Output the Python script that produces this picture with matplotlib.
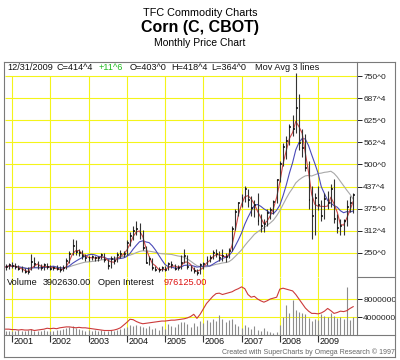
import matplotlib
matplotlib.use("Agg")
import matplotlib.pyplot as plt
import numpy as np
import pandas as pd
from matplotlib.lines import Line2D

plt.rcParams['font.family'] = ['Liberation Sans', 'DejaVu Sans']

# monthly bars, Nov 2000 .. Dec 2009 (month index 0 = Jan 2001)
months = np.arange(-2, 108)

high = [218, 222,
        225, 222, 215, 212, 208, 210, 248, 238, 228, 218, 222, 222,
        215, 212, 215, 212, 215, 235, 255, 290, 285, 262, 258, 248,
        242, 245, 240, 242, 250, 250, 232, 240, 240, 252, 258, 255,
        285, 310, 325, 340, 335, 315, 270, 240, 235, 212, 210, 212,
        212, 225, 228, 218, 215, 245, 262, 245, 215, 210, 205, 220,
        225, 240, 245, 258, 262, 255, 262, 250, 265, 325, 375, 395,
        415, 440, 430, 410, 400, 420, 360, 345, 375, 380, 400, 460,
        510, 560, 580, 615, 640, 758, 700, 600, 585, 510, 440, 420,
        440, 400, 420, 425, 445, 460, 360, 345, 345, 400, 410, 418.5]
low = [202, 205,
       208, 205, 200, 195, 192, 190, 200, 210, 205, 200, 202, 204,
       200, 200, 200, 196, 198, 205, 222, 245, 245, 240, 232, 228,
       228, 230, 228, 226, 232, 225, 205, 208, 218, 225, 235, 238,
       245, 270, 285, 300, 290, 258, 220, 215, 202, 198, 196, 198,
       198, 200, 208, 200, 200, 205, 220, 205, 198, 192, 186, 190,
       205, 215, 225, 232, 238, 228, 228, 225, 235, 255, 315, 355,
       380, 395, 380, 355, 350, 330, 310, 310, 325, 345, 360, 390,
       450, 495, 515, 555, 580, 590, 540, 520, 480, 375, 290, 300,
       370, 340, 345, 375, 380, 335, 305, 300, 300, 325, 365, 364]
close = [210, 215,
         212, 210, 205, 200, 196, 195, 225, 218, 212, 207, 215, 210,
         205, 206, 204, 200, 206, 226, 248, 268, 252, 250, 240, 236,
         235, 237, 234, 236, 245, 230, 212, 232, 226, 245, 246, 248,
         278, 298, 312, 318, 305, 265, 222, 232, 206, 202, 200, 206,
         202, 218, 215, 205, 208, 222, 240, 210, 202, 198, 192, 215,
         218, 230, 236, 250, 248, 235, 242, 238, 256, 318, 365, 390,
         405, 430, 400, 378, 385, 340, 325, 332, 362, 370, 395, 455,
         500, 550, 565, 605, 600, 660, 560, 545, 490, 400, 355, 405,
         385, 355, 402, 390, 430, 345, 320, 325, 340, 380, 392, 414.5]

# volume in millions of contracts
volume = [0.9, 1.0,
          1.0, 0.9, 1.1, 0.8, 1.0, 1.2, 1.3, 0.9, 1.0, 0.8, 1.1, 0.9,
          1.0, 0.9, 1.2, 1.1, 1.4, 1.6, 1.8, 1.9, 1.5, 1.3, 1.2, 1.0,
          1.1, 1.0, 1.2, 0.9, 1.1, 1.0, 0.8, 1.2, 1.0, 1.1, 1.3, 1.5,
          1.8, 2.2, 1.9, 2.3, 2.0, 1.7, 1.5, 1.9, 1.3, 1.6, 1.2, 1.9,
          1.4, 2.4, 2.0, 1.8, 2.5, 2.8, 3.0, 2.4, 1.8, 2.6, 1.9, 3.1,
          2.6, 3.4, 3.0, 3.6, 3.2, 4.4, 3.6, 2.8, 3.4, 3.5, 2.4, 2.0,
          1.6, 2.2, 1.8, 1.4, 2.0, 1.2, 0.9, 1.5, 0.8, 0.6, 0.5, 0.7,
          2.2, 4.1, 6.7, 5.0, 7.8, 5.6, 5.2, 4.8, 4.6, 3.7, 3.2, 3.6,
          3.4, 4.6, 4.2, 4.0, 4.8, 4.3, 3.8, 4.0, 3.6, 10.7, 3.4, 3.9]
# open interest line, as drawn on the volume scale
open_int = [1.3, 1.3,
            1.2, 1.2, 1.1, 1.2, 1.1, 1.1, 1.2, 1.0, 1.1, 1.2, 1.3, 1.5,
            1.4, 1.5, 1.4, 1.6, 1.7, 1.8, 1.8, 1.7, 1.6, 1.7, 1.6, 1.6,
            1.5, 1.4, 1.3, 1.2, 1.1, 1.0, 1.0, 1.0, 1.1, 1.3, 1.6, 2.2,
            2.8, 3.5, 3.4, 3.0, 2.7, 2.5, 2.6, 2.7, 2.8, 2.9, 3.0, 3.1,
            3.1, 3.2, 3.3, 3.3, 3.4, 3.5, 3.6, 3.8, 4.1, 4.6, 3.7, 4.6,
            5.8, 7.0, 7.8, 8.6, 9.2, 9.3, 9.0, 9.2, 9.4, 9.6, 10.0, 10.3,
            10.7, 10.3, 9.0, 8.4, 8.6, 8.0, 7.6, 7.3, 7.6, 8.0, 8.2, 8.4,
            10.2, 10.4, 10.2, 10.0, 9.8, 9.0, 8.0, 7.0, 6.0, 5.3, 4.8, 4.8,
            4.7, 4.9, 5.3, 5.9, 5.4, 4.8, 5.0, 5.3, 5.2, 5.4, 5.9, 6.3]

years = list(range(2001, 2010))
price_ticks = [750, 687.5, 625, 562.5, 500, 437.5, 375, 312.5, 250]
price_labels = ['750^0', '687^4', '625^0', '562^4', '500^0', '437^4',
                '375^0', '312^4', '250^0']
vol_ticks = [8, 4]
vol_labels = ['8000000', '4000000']

W, H = 400, 360
YEL = '#f4f41a'
FRAME = '#7a7a7a'


def fx(px):
    return px / W


def fy(py):
    return 1 - py / H


closes = pd.Series(close, dtype=float)
ma_fast = closes.rolling(3, min_periods=1).mean()
ma_mid = closes.rolling(8, min_periods=1).mean()
ma_slow = closes.rolling(18, min_periods=1).mean()

year_pos = [(y - 2001) * 12 for y in years]
xlo, xhi = -2.2, 108.2

fig = plt.figure(figsize=(4, 3.6), dpi=100)
fig.patch.set_facecolor('white')

# titles
fig.text(0.5, fy(12.5), 'TFC Commodity Charts', ha='center', va='center', fontsize=7.8)
fig.text(0.5, fy(27.5), 'Corn (C, CBOT)', ha='center', va='center', fontsize=11.5,
         fontweight='bold')
fig.text(0.5, fy(43), 'Monthly Price Chart', ha='center', va='center', fontsize=7.5)

# price panel
ax = fig.add_axes([fx(5), fy(277), fx(352), 215 / H])
ax.set_xlim(xlo, xhi)
ax.set_ylim(181.6, 789.6)
ax.hlines(price_ticks, xlo, xhi, color=YEL, lw=0.8, zorder=0)
ax.vlines(year_pos, 181.6, 750, color=YEL, lw=0.8, zorder=0)
ax.plot(months, ma_slow, color='#a8a8a8', lw=0.8, zorder=2)
ax.plot(months, ma_mid, color='#4a4ab8', lw=0.8, zorder=2)
ax.plot(months, ma_fast, color='#d04848', lw=0.8, zorder=2)
ax.vlines(months, low, high, color='#333333', lw=0.8, zorder=3)
ax.hlines(close, months, months + 0.6, color='#111111', lw=1.1, zorder=3)
ax.set_xticks([])
ax.yaxis.tick_right()
ax.set_yticks(price_ticks)
ax.set_yticklabels(price_labels)
ax.tick_params(axis='y', length=3.5, width=0.7, pad=1, labelsize=6, colors='#222222')
for s in ax.spines.values():
    s.set_visible(False)

# volume panel
av = fig.add_axes([fx(5), fy(335), fx(352), 58 / H])
av.set_xlim(xlo, xhi)
av.set_ylim(0, 12.89)
av.hlines(vol_ticks, xlo, xhi, color=YEL, lw=0.8, zorder=0)
av.vlines(year_pos, 0, 12.89, color=YEL, lw=0.8, zorder=0)
av.vlines(months, 0, volume, color='#8c8c8c', lw=0.8, zorder=2)
av.plot(months, open_int, color='#cc3a3a', lw=0.8, zorder=3)
av.yaxis.tick_right()
av.set_yticks(vol_ticks)
av.set_yticklabels(vol_labels)
av.tick_params(axis='y', length=3.5, width=0.7, pad=1, labelsize=6, colors='#222222')
av.set_xticks(year_pos)
av.set_xticklabels([])
av.tick_params(axis='x', length=5, width=0.8, colors='#333333')
for s in av.spines.values():
    s.set_visible(False)
for yr, xp in zip(years, year_pos):
    av.annotate(str(yr), xy=(xp, 0), xycoords='data', xytext=(1.5, -7),
                textcoords='offset pixels', ha='left', va='center', fontsize=6.5,
                color='#111111', annotation_clip=False)

# header line
hy = fy(67.5)
for px, txt, col in [(7, '12/31/2009', '#111111'), (57, 'C=414^4', '#111111'),
                     (99, '+11^6', '#22bb22'), (130, 'O=403^0', '#111111'),
                     (171, 'H=418^4', '#111111'), (211, 'L=364^0', '#111111'),
                     (255, 'Mov Avg 3 lines', '#111111')]:
    fig.text(fx(px), hy, txt, ha='left', va='center', fontsize=6.6, color=col)

vy = fy(282.5)
for px, txt, col in [(7, 'Volume', '#111111'), (43, '3902630.00', '#111111'),
                     (98, 'Open Interest', '#111111'), (164, '976125.00', '#dd1111')]:
    fig.text(fx(px), vy, txt, ha='left', va='center', fontsize=6.6, color=col)

fig.text(fx(395), fy(352), 'Created with SuperCharts by Omega Research \u00a9 1997',
         ha='right', va='center', fontsize=5, color='#666666')

# frame lines
frame = [((4, 395), (62, 62)), ((4, 395), (357, 357)), ((4, 4), (62, 357)),
         ((395, 395), (62, 357)), ((357, 357), (62, 335)), ((4, 395), (335, 335)),
         ((357, 395), (277, 277))]
for xs, ys in frame:
    fig.add_artist(Line2D([fx(xs[0]), fx(xs[1])], [fy(ys[0]), fy(ys[1])],
                          color=FRAME, lw=0.8, transform=fig.transFigure))

fig.savefig('out.png', dpi=100)
